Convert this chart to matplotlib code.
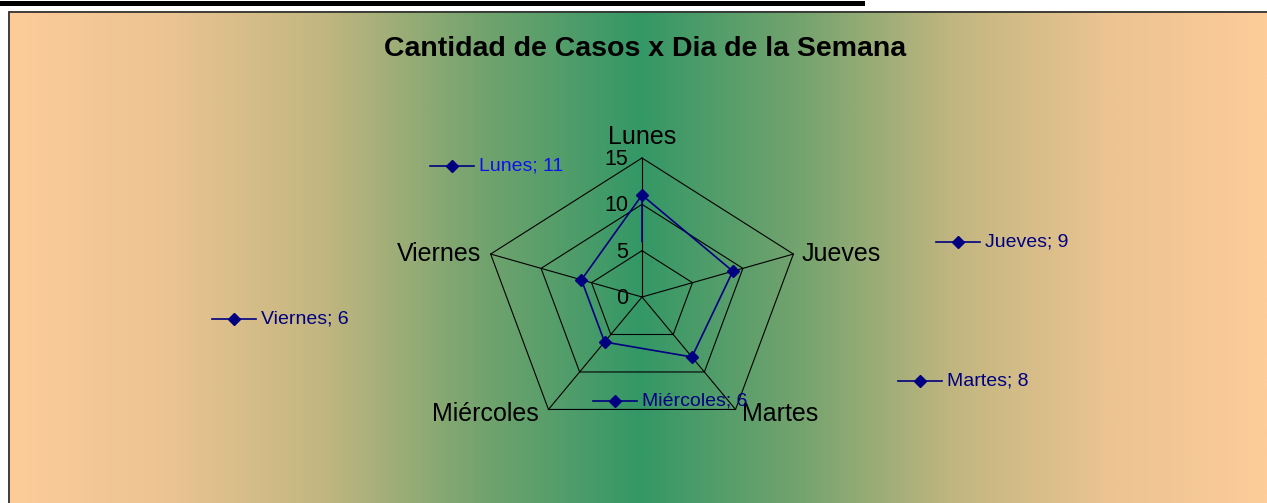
import numpy as np
import matplotlib
matplotlib.use("Agg")
import matplotlib.pyplot as plt
from matplotlib.colors import LinearSegmentedColormap
from matplotlib.patches import Rectangle
from matplotlib.lines import Line2D

plt.rcParams['font.family'] = ['Liberation Sans', 'DejaVu Sans']

# --- datos ---
dias = ['Lunes', 'Jueves', 'Martes', 'Miércoles', 'Viernes']
casos = [11, 9, 8, 6, 6]
niveles = [0, 5, 10, 15]
titulo = 'Cantidad de Casos x Dia de la Semana'

# etiquetas de datos arrastradas (posicion en pixeles: marcador x, y)
etiquetas = ['Lunes; 11', 'Jueves; 9', 'Martes; 8', 'Viernes; 6', 'Miércoles; 6']
etiq_pos = [(452, 166), (958, 242), (920, 381), (234, 319), (615, 401)]
etiq_color = ['#1010EE', '#000080', '#000080', '#000080', '#000080']

W, H = 1267, 503
fig = plt.figure(figsize=(W / 100, H / 100), dpi=100)
fig.patch.set_facecolor('white')

# --- fondo degradado ---
top_px = 11
bg = fig.add_axes([8 / W, 0, 1 - 8 / W, 1 - top_px / H])
bg.set_axis_off()
cmap = LinearSegmentedColormap.from_list('fondo', [
    (0.0, (253/255, 204/255, 153/255)),
    (0.25, (236/255, 196/255, 146/255)),
    (0.5, (194/255, 182/255, 128/255)),
    (0.75, (115/255, 163/255, 110/255)),
    (1.0, (51/255, 152/255, 102/255)),
])
ncol = W - 8
xs = np.arange(ncol)
centro = 640 - 8
t = 1 - np.abs(xs - centro) / np.where(xs < centro, centro, ncol - centro)
bg.imshow(t[np.newaxis, :], aspect='auto', cmap=cmap, vmin=0, vmax=1,
          extent=[0, 1, 0, 1], interpolation='bilinear')
bg.set_xlim(0, 1)
bg.set_ylim(0, 1)

fig.patches.append(Rectangle((8.5 / W, -0.01), 1.0, 1 - (top_px + 0.5) / H + 0.01,
                             transform=fig.transFigure, fill=False,
                             edgecolor='#333333', linewidth=1.3, zorder=5))
fig.lines.append(Line2D([0, 862 / W], [1 - 2.5 / H, 1 - 2.5 / H],
                        transform=fig.transFigure, color='black', linewidth=3.6))

# --- grafico radial (estirado horizontalmente como en Excel) ---
cx, cy = 642, 297
sy = 139 / 15
sx = sy * 1.145
ax = fig.add_axes([0, 0, 1, 1])
ax.patch.set_alpha(0)
ax.set_axis_off()
ax.set_xlim(-cx / sx, (W - cx) / sx)
ax.set_ylim(-(H - cy) / sy, cy / sy)

n = len(dias)
ang = 2 * np.pi * np.arange(n) / n
ux, uy = np.sin(ang), np.cos(ang)

rmax = max(niveles)
for nv in niveles[1:]:
    ax.plot(np.append(nv * ux, nv * ux[0]), np.append(nv * uy, nv * uy[0]),
            color='black', linewidth=0.8)
for i in range(n):
    ax.plot([0, rmax * ux[i]], [0, rmax * uy[i]], color='black', linewidth=0.8)

v = np.array(casos)
ax.plot(np.append(v * ux, v * ux[0]), np.append(v * uy, v * uy[0]),
        color='#000080', linewidth=1.2, marker='D', markersize=6,
        markevery=list(range(n)), zorder=4)

for nv in niveles:
    ax.annotate(str(nv), (0, nv), xytext=(-10, -1), textcoords='offset points',
                ha='right', va='center', fontsize=15.5)

offs = [(0, 15, 'center'), (6, 0, 'left'), (5, -3, 'left'), (-7, -3, 'right'), (-7, 0, 'right')]
for i, d in enumerate(dias):
    dx, dy, ha = offs[i]
    ax.annotate(d, (rmax * ux[i], rmax * uy[i]), xytext=(dx, dy),
                textcoords='offset points', ha=ha, va='center', fontsize=18)

fig.text(645 / W, 1 - 49 / H, titulo, ha='center', va='center',
         fontsize=20.5, fontweight='bold')

for lab, (px, py), c in zip(etiquetas, etiq_pos, etiq_color):
    fy = 1 - py / H
    fig.lines.append(Line2D([(px - 22) / W, (px + 22) / W], [fy, fy],
                            transform=fig.transFigure, color='#000080', linewidth=1.2))
    fig.lines.append(Line2D([px / W], [fy], transform=fig.transFigure, color='#000080',
                            marker='D', markersize=6, linestyle='none'))
    fig.text((px + 27) / W, fy, lab, ha='left', va='center', fontsize=14, color=c)

fig.savefig('out.png', dpi=100)
